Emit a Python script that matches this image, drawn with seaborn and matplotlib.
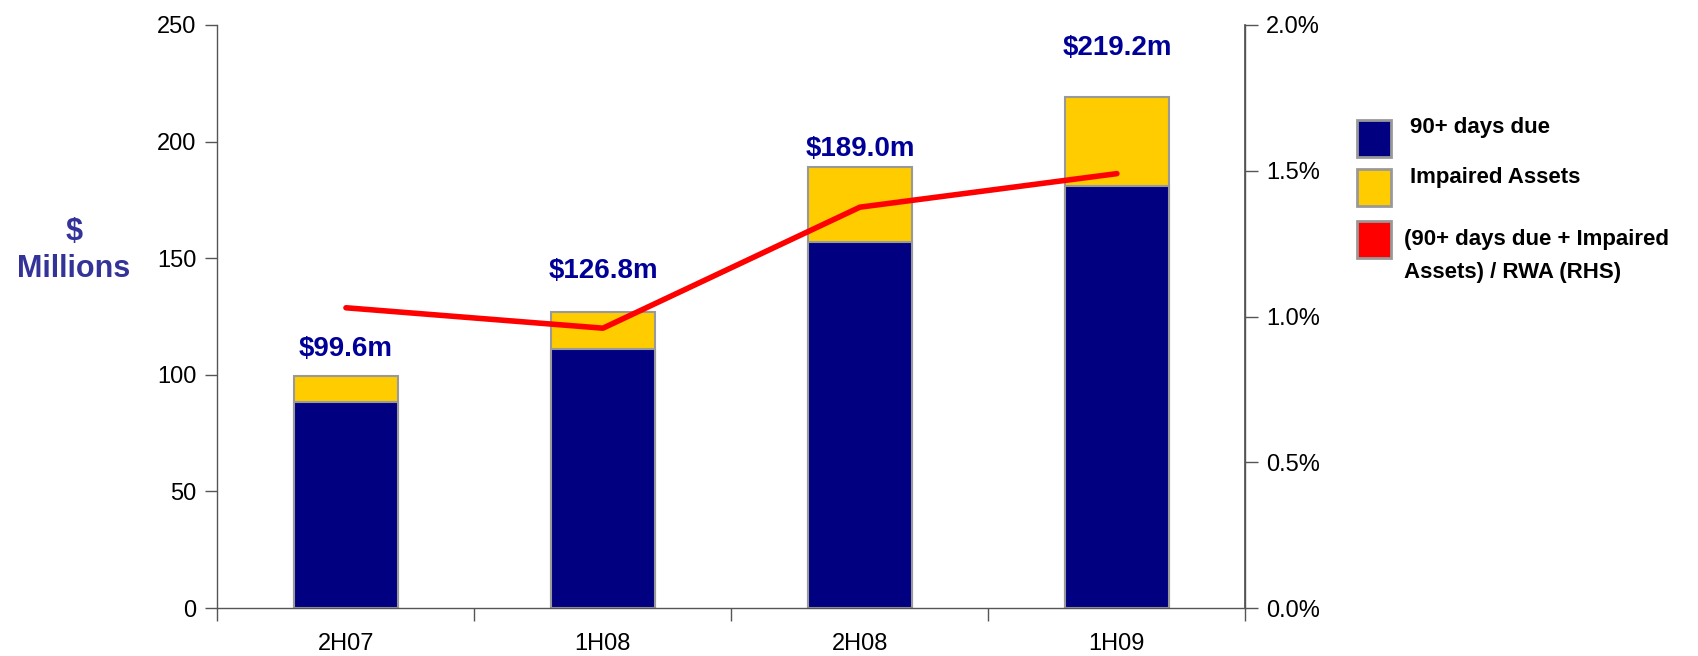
import matplotlib
matplotlib.use("Agg")
import matplotlib.pyplot as plt
import seaborn as sns
import pandas as pd
from matplotlib.patches import Rectangle
from matplotlib.ticker import FuncFormatter, FixedLocator

categories = ["2H07", "1H08", "2H08", "1H09"]
days90_due = [88.3, 111.0, 157.0, 180.8]
totals = [99.6, 126.8, 189.0, 219.2]
ratio_pct = [1.03, 0.96, 1.375, 1.49]
total_labels = ["$99.6m", "$126.8m", "$189.0m", "$219.2m"]
legend_labels = ["90+ days due", "Impaired Assets",
                 "(90+ days due + Impaired\nAssets) / RWA (RHS)"]

label_offsets = [11.5, 17.5, 8.0, 21.0]

sns.set_theme(style="white")
plt.rcParams["font.family"] = ["Liberation Sans", "DejaVu Sans"]

df = pd.DataFrame({"cat": categories, "due": days90_due, "total": totals, "ratio": ratio_pct})

W, H = 1699, 656
fig = plt.figure(figsize=(W / 100, H / 100), dpi=100)
ax = fig.add_axes([0.128, 0.073, 0.605, 0.889])

navy = "#000080"
gold = "#FFCC00"
red = "#FF0000"
edge = "#999999"
axc = "#555555"

sns.barplot(data=df, x="cat", y="total", color=gold, width=0.405, edgecolor=edge,
            linewidth=1.5, saturation=1, ax=ax)
sns.barplot(data=df, x="cat", y="due", color=navy, width=0.405, edgecolor=edge,
            linewidth=1.5, saturation=1, ax=ax)

ax.set_xlim(-0.5, 3.5)
ax.set_ylim(0, 250)
ax.set_yticks([0, 50, 100, 150, 200, 250])
ax.set_xlabel("")
ax.set_ylabel("")
ax.tick_params(axis="y", direction="out", length=9, width=1, color=axc,
               labelsize=17, pad=6, left=True, labelcolor="black")
ax.tick_params(axis="x", which="both", bottom=False, labelsize=17, pad=12,
               labelcolor="black")
ax.xaxis.set_minor_locator(FixedLocator([-0.5, 0.5, 1.5, 2.5, 3.5]))
ax.tick_params(axis="x", which="minor", bottom=True, direction="out", length=9,
               width=1, color=axc)

ax.spines["top"].set_visible(False)
for s in ["left", "bottom", "right"]:
    ax.spines[s].set_color(axc)
    ax.spines[s].set_linewidth(1)

for i, (t, lab) in enumerate(zip(totals, total_labels)):
    ax.text(i, t + label_offsets[i], lab, ha="center", va="center", fontsize=20,
            fontweight="bold", color="#000099")

ax2 = ax.twinx()
sns.lineplot(x=[0, 1, 2, 3], y=df["ratio"], color=red, linewidth=4, ax=ax2,
             sort=False, solid_capstyle="round")
ax2.set_ylim(0, 2.0)
ax2.set_yticks([0, 0.5, 1.0, 1.5, 2.0])
ax2.yaxis.set_major_formatter(FuncFormatter(lambda v, p: f"{v:.1f}%"))
ax2.tick_params(axis="y", direction="out", length=9, width=1, color=axc,
                labelsize=17, pad=6, right=True, labelcolor="black")
ax2.set_ylabel("")
ax2.spines["top"].set_visible(False)
ax2.spines["right"].set_color(axc)
ax2.spines["left"].set_visible(False)
ax2.spines["bottom"].set_visible(False)

fig.text(0.0436, 1 - 232 / H, "$", ha="center", va="center", fontsize=22,
         fontweight="bold", color="#333399")
fig.text(0.0436, 1 - 269 / H, "Millions", ha="center", va="center", fontsize=22,
         fontweight="bold", color="#333399")

# legend drawn as figure patches + text
sq_w, sq_h = 34, 37
rows_y = [138, 187, 239]
text_x = [1410, 1410, 1404]
colors = [navy, gold, red]
for cy, tx, c, lab in zip(rows_y, text_x, colors, legend_labels):
    fig.patches.append(Rectangle(((1357) / W, 1 - (cy + sq_h / 2) / H), sq_w / W, sq_h / H,
                                 transform=fig.transFigure, facecolor=c, edgecolor=edge,
                                 linewidth=2))
    if "\n" in lab:
        fig.text(tx / W, 1 - (cy - 10) / H, lab, ha="left", va="top", fontsize=16,
                 fontweight="bold", color="black", linespacing=1.75)
    else:
        fig.text(tx / W, 1 - (cy - 10) / H, lab, ha="left", va="center", fontsize=16,
                 fontweight="bold", color="black")

fig.savefig("out.png", dpi=100)
